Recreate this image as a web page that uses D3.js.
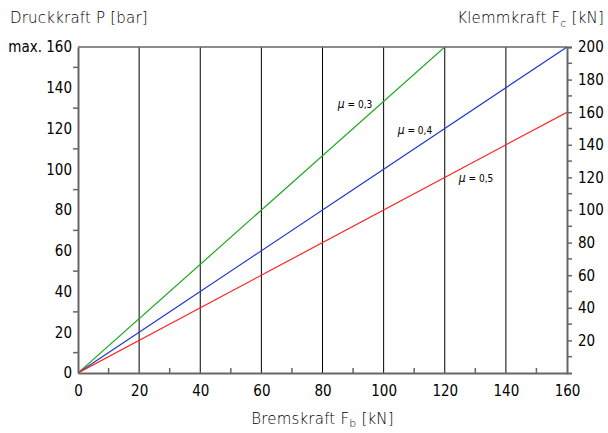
<!DOCTYPE html>
<html>
<head>
<meta charset="utf-8">
<script src="https://cdn.jsdelivr.net/npm/d3@7"></script>
<style>
  body { margin: 0; background: #fff; }
  text { font-family: "DejaVu Sans", sans-serif; fill: #000; }
  .title { font-weight: 200; }
  .tick text { font-family: "DejaVu Sans Condensed", "DejaVu Sans", sans-serif; }
  .muText { font-family: "DejaVu Sans Condensed", "DejaVu Sans", sans-serif; }
</style>
</head>
<body>
<div id="chart"></div>
<script>
var svgWidth = 608;
var svgHeight = 433;

var margin = { top: 47, right: 41, bottom: 60, left: 78 };
var width = svgWidth - margin.left - margin.right;
var height = svgHeight - margin.top - margin.bottom;

// data
var bremskraft = [0, 160];
var mu = [0.3, 0.4, 0.5];
var druckEnd = [213.3, 160, 128];   // P at Fb = 160 (mu 0.3 clipped at top)
var lineColors = ["#1fa81f", "#1f3acc", "#ff2020"];
var muLabels = ["0,3", "0,4", "0,5"];
var muLabelPos = [[85, 130.3], [104.6, 117.5], [124.6, 93.9]];  // in Fb / P units
var xTicks = [0, 20, 40, 60, 80, 100, 120, 140, 160];
var leftTicks = [0, 20, 40, 60, 80, 100, 120, 140, 160];
var rightTicks = [20, 40, 60, 80, 100, 120, 140, 160, 180, 200];

var svg = d3.select("#chart")
  .append("svg")
  .attr("width", svgWidth)
  .attr("height", svgHeight);

var chartGroup = svg.append("g")
  .attr("transform", `translate(${margin.left}, ${margin.top})`);

var x = d3.scaleLinear().domain([0, 160]).range([0, width]);
var yL = d3.scaleLinear().domain([0, 160]).range([height, 0]);
var yR = d3.scaleLinear().domain([0, 200]).range([height, 0]);

svg.append("clipPath").attr("id", "clip")
  .append("rect").attr("width", width).attr("height", height);

// vertical grid lines
chartGroup.selectAll(".grid")
  .data(xTicks.slice(1, -1))
  .enter()
  .append("line")
  .attr("x1", d => x(d)).attr("x2", d => x(d))
  .attr("y1", 0).attr("y2", height)
  .attr("stroke", "#000").attr("stroke-width", 1);

// top border
chartGroup.append("line")
  .attr("x1", 0).attr("x2", width).attr("y1", 0).attr("y2", 0)
  .attr("stroke", "#666").attr("stroke-width", 1.5);

// lines
var lineData = mu.map((m, i) => ({ m: m, color: lineColors[i], pts: [[bremskraft[0], 0], [bremskraft[1], druckEnd[i]]] }));
chartGroup.selectAll(".muLine")
  .data(lineData)
  .enter()
  .append("line")
  .attr("clip-path", "url(#clip)")
  .attr("x1", d => x(d.pts[0][0])).attr("y1", d => yL(d.pts[0][1]))
  .attr("x2", d => x(d.pts[1][0])).attr("y2", d => yL(d.pts[1][1]))
  .attr("stroke", d => d.color).attr("stroke-width", 1.2);

// axes
var bottomAxis = d3.axisBottom(x).tickValues(xTicks).tickSize(0).tickPadding(12);
var gx = chartGroup.append("g")
  .attr("transform", `translate(0, ${height})`)
  .call(bottomAxis);
gx.select(".domain").attr("stroke", "#666").attr("stroke-width", 2);
gx.selectAll(".tick text").attr("font-size", 15);

// minor ticks on bottom (inward)
gx.selectAll(".minor").data(d3.range(10, 160, 20)).enter().append("line")
  .attr("x1", d => x(d)).attr("x2", d => x(d)).attr("y1", 0).attr("y2", -5)
  .attr("stroke", "#666").attr("stroke-width", 1.5);

var leftAxis = d3.axisLeft(yL).tickValues(leftTicks).tickSize(0).tickPadding(6)
  .tickFormat(d => d === 160 ? "max. 160" : d);
var gl = chartGroup.append("g").call(leftAxis);
gl.select(".domain").attr("stroke", "#666").attr("stroke-width", 2);
gl.selectAll(".tick text").attr("font-size", 15);
gl.selectAll(".minor").data(d3.range(10, 160, 20)).enter().append("line")
  .attr("x1", 0).attr("x2", -5).attr("y1", d => yL(d)).attr("y2", d => yL(d))
  .attr("stroke", "#666").attr("stroke-width", 1.5);

var rightAxis = d3.axisRight(yR).tickValues(rightTicks).tickSize(5).tickPadding(6);
var gr = chartGroup.append("g")
  .attr("transform", `translate(${width}, 0)`)
  .call(rightAxis);
gr.select(".domain").attr("stroke", "#666").attr("stroke-width", 2);
gr.selectAll(".tick line").attr("stroke", "#666").attr("stroke-width", 1.5);
gr.selectAll(".tick text").attr("font-size", 15);
gr.selectAll(".minor").data(d3.range(10, 200, 20)).enter().append("line")
  .attr("x1", 0).attr("x2", 5).attr("y1", d => yR(d)).attr("y2", d => yR(d))
  .attr("stroke", "#666").attr("stroke-width", 1.5);

// mu labels
var mt = chartGroup.selectAll(".muText")
  .data(muLabels)
  .enter()
  .append("text")
  .attr("class", "muText")
  .attr("x", (d, i) => x(muLabelPos[i][0]))
  .attr("y", (d, i) => yL(muLabelPos[i][1]))
  .attr("font-size", 10);
mt.append("tspan").attr("font-style", "italic").attr("font-size", 12).text("\u03bc");
mt.append("tspan").text(d => " = " + d);

// axis titles
svg.append("text")
  .attr("class", "title")
  .attr("x", 10).attr("y", 23)
  .attr("font-size", 15)
  .attr("letter-spacing", 0.2)
  .text("Druckkraft P [bar]");

var rt = svg.append("text")
  .attr("class", "title")
  .attr("x", 604).attr("y", 23)
  .attr("text-anchor", "end")
  .attr("letter-spacing", 0.2)
  .attr("font-size", 15);
rt.append("tspan").text("Klemmkraft F");
rt.append("tspan").attr("font-size", 11).attr("dy", 4).text("c");
rt.append("tspan").attr("dy", -4).text(" [kN]");

var bt = svg.append("text")
  .attr("class", "title")
  .attr("x", margin.left + width / 2).attr("y", 424)
  .attr("text-anchor", "middle")
  .attr("letter-spacing", 0.2)
  .attr("font-size", 15);
bt.append("tspan").text("Bremskraft F");
bt.append("tspan").attr("font-size", 11).attr("dy", 3).text("b");
bt.append("tspan").attr("dy", -3).text(" [kN]");
</script>
</body>
</html>
